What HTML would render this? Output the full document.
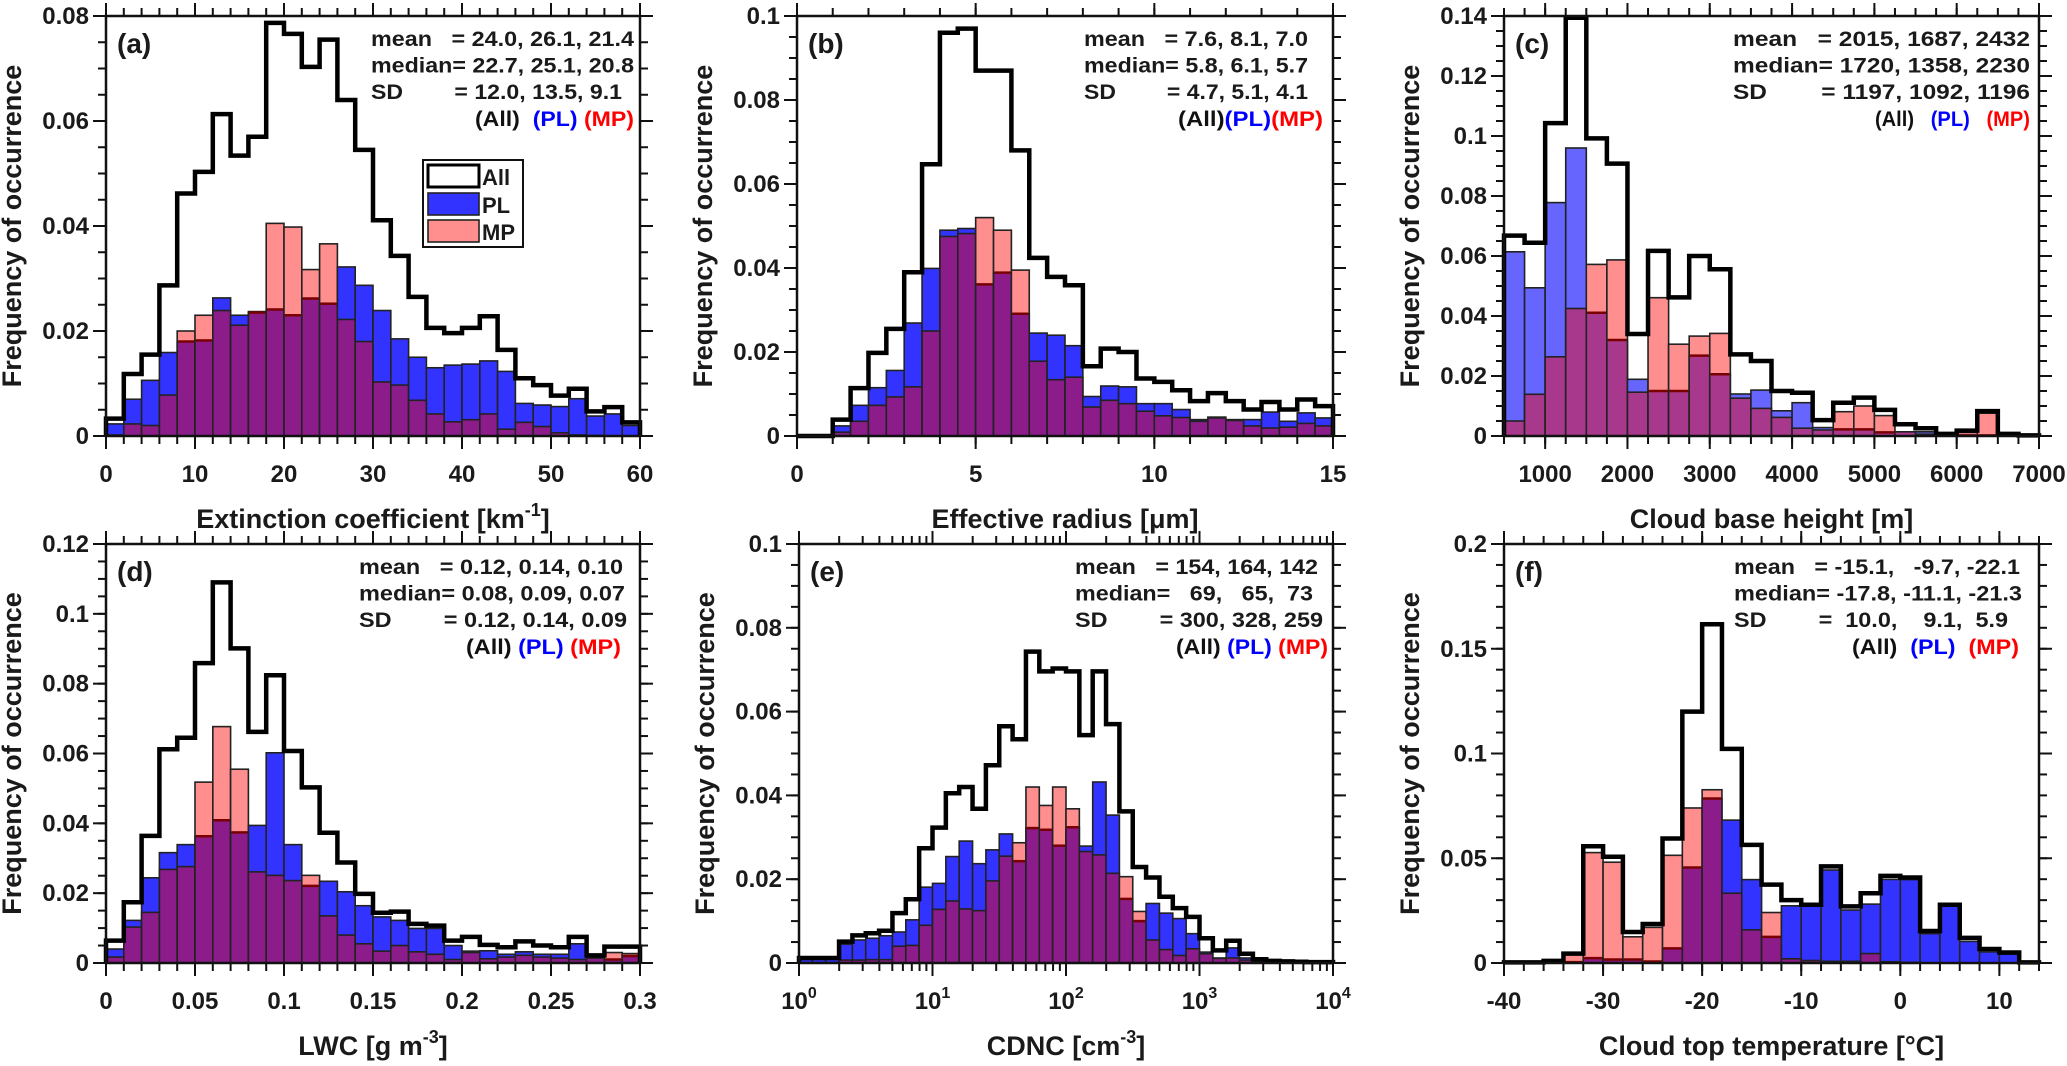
<!DOCTYPE html>
<html><head><meta charset="utf-8"><style>
html,body{margin:0;padding:0;background:#fff}
svg{display:block}
text{font-family:"Liberation Sans",Arial,sans-serif;font-weight:bold;fill:#1a1a1a}
.pre{white-space:pre}
</style></head><body>
<svg id="fig" width="2067" height="1066" viewBox="0 0 2067 1066" xmlns="http://www.w3.org/2000/svg"></svg>
<script>
// ---------- data (a) extinction coefficient ----------
const aAll=[0.0033,0.0118,0.0155,0.0287,0.0462,0.0503,0.0613,0.0534,0.057,0.0787,0.0766,0.0703,0.0755,0.064,0.0545,0.0411,0.0343,0.0265,0.0206,0.0196,0.0206,0.0228,0.0164,0.011,0.0097,0.0077,0.009,0.0047,0.0055,0.0026];
const aPL=[0.0023,0.007,0.0106,0.0159,0.018,0.0182,0.0263,0.023,0.0235,0.0241,0.023,0.0262,0.0252,0.0322,0.0287,0.0239,0.0185,0.015,0.013,0.0135,0.0137,0.0143,0.0123,0.0062,0.0059,0.0056,0.0071,0.0038,0.0042,0.002];
const aMP=[0.0002,0.0023,0.002,0.0078,0.020,0.023,0.0239,0.0211,0.0237,0.0405,0.0398,0.0317,0.0366,0.0222,0.018,0.0103,0.0097,0.0068,0.0042,0.0027,0.0031,0.0042,0.0013,0.0026,0.0018,0.0006,0.0002,0.0001,0,0];
const aXTicks=[0,10,20,30,40,50,60];
const aXLabels=["0","10","20","30","40","50","60"];
const aYTicks=[0,0.02,0.04,0.06,0.08];
const aYLabels=["0","0.02","0.04","0.06","0.08"];
// ---------- (b) effective radius ----------
const bAll=[0,0,0.0039,0.0114,0.0198,0.0255,0.039,0.0647,0.096,0.097,0.087,0.087,0.068,0.0424,0.0379,0.0359,0.0166,0.0208,0.02,0.0137,0.0129,0.0109,0.0083,0.0102,0.0083,0.0063,0.0081,0.0063,0.0087,0.0071];
const bPL=[0,0,0.0024,0.0073,0.0115,0.0156,0.0269,0.0399,0.049,0.0494,0.0361,0.0389,0.0291,0.0245,0.024,0.0215,0.0094,0.0119,0.0117,0.0077,0.0077,0.0063,0.0039,0.0045,0.0039,0.0039,0.0057,0.0035,0.0055,0.0043];
const bMP=[0,0,0.0009,0.0035,0.0073,0.0093,0.0117,0.025,0.0475,0.0482,0.052,0.049,0.0395,0.0178,0.0134,0.014,0.0069,0.0085,0.0077,0.0059,0.0048,0.0044,0.0035,0.0043,0.0037,0.0024,0.0019,0.0021,0.003,0.0024];
const bXTicks=[0,5,10,15];
const bXLabels=["0","5","10","15"];
const bYTicks=[0,0.02,0.04,0.06,0.08,0.1];
const bYLabels=["0","0.02","0.04","0.06","0.08","0.1"];
// ---------- (c) cloud base height ----------
const cAll=[0.0668,0.0644,0.1043,0.1394,0.0992,0.0908,0.034,0.0617,0.0462,0.060,0.0556,0.0272,0.025,0.015,0.0144,0.0053,0.0111,0.0128,0.0087,0.0039,0.0026,0.0007,0.0018,0.0083,0.0007,0.0002];
const cPL=[0.0614,0.0494,0.0778,0.096,0.0411,0.032,0.0189,0.015,0.015,0.0268,0.0206,0.014,0.0153,0.0084,0.0111,0.0028,0.0022,0.0022,0.0012,0.0014,0.0014,0.0003,0.0002,0.0002,0.0002,0.0001];
const cMP=[0.005,0.0139,0.0264,0.0425,0.0572,0.0587,0.0146,0.0461,0.0306,0.0333,0.0342,0.0126,0.0092,0.0062,0.0026,0.002,0.0081,0.010,0.0068,0.0014,0.0006,0.0002,0.0012,0.0076,0.0003,0.0001];
const cXTicks=[1000,2000,3000,4000,5000,6000,7000];
const cXLabels=["1000","2000","3000","4000","5000","6000","7000"];
const cYTicks=[0,0.02,0.04,0.06,0.08,0.1,0.12,0.14];
const cYLabels=["0","0.02","0.04","0.06","0.08","0.1","0.12","0.14"];
// ---------- (d) LWC ----------
const dAll=[0.0064,0.0174,0.0364,0.0612,0.0645,0.0859,0.109,0.0901,0.0662,0.0824,0.0607,0.0503,0.0373,0.0288,0.0198,0.0144,0.0147,0.0112,0.0107,0.0064,0.0075,0.0052,0.0045,0.0062,0.005,0.0045,0.0075,0.0022,0.0047,0.0047];
const dPL=[0.004,0.0122,0.0244,0.0316,0.0339,0.0363,0.0409,0.0374,0.0394,0.0602,0.0339,0.0221,0.0234,0.0204,0.0164,0.0132,0.0122,0.0099,0.0099,0.005,0.0034,0.0035,0.0025,0.0032,0.0025,0.0025,0.0055,0.0017,0.001,0.002];
const dMP=[0.0017,0.0103,0.0145,0.0268,0.0276,0.0518,0.0677,0.0555,0.0261,0.0251,0.0236,0.0251,0.0135,0.008,0.0055,0.0034,0.005,0.0032,0.0025,0.001,0.003,0.0012,0.0017,0.0022,0.0017,0.0014,0.001,0.0014,0.003,0.0027];
const dXTicks=[0,0.05,0.1,0.15,0.2,0.25,0.3];
const dXLabels=["0","0.05","0.1","0.15","0.2","0.25","0.3"];
const dYTicks=[0,0.02,0.04,0.06,0.08,0.1,0.12];
const dYLabels=["0","0.02","0.04","0.06","0.08","0.1","0.12"];
// ---------- (e) CDNC (log bins, 10 per decade) ----------
const eAll=[0.0012,0.0012,0.0012,0.0051,0.0066,0.0071,0.0077,0.0119,0.0152,0.0274,0.0323,0.0405,0.042,0.0368,0.0472,0.0565,0.0534,0.0743,0.0696,0.0703,0.0696,0.0544,0.0696,0.057,0.0362,0.0229,0.0204,0.0158,0.0131,0.011,0.0059,0.003,0.0053,0.0022,0.0009,0.0005,0.0004,0.0003,0.0002,0.0002];
const ePL=[0.0009,0.0009,0.0009,0.0045,0.0055,0.0059,0.0065,0.0074,0.0103,0.0181,0.019,0.0254,0.0291,0.0237,0.027,0.0308,0.0243,0.0322,0.0318,0.028,0.0324,0.0279,0.0432,0.0353,0.0153,0.010,0.0142,0.0119,0.0106,0.007,0.0026,0.0012,0.0036,0.0012,0.0006,0.0003,0.0002,0.0002,0.0001,0.0001];
const eMP=[0.0001,0.0001,0.0001,0.0007,0.0007,0.0008,0.0008,0.004,0.0042,0.009,0.0128,0.0148,0.0129,0.0125,0.0196,0.0255,0.0287,0.042,0.0376,0.042,0.0368,0.0266,0.0258,0.0214,0.0206,0.0123,0.0055,0.0032,0.0018,0.0034,0.0022,0.0011,0.0012,0.0007,0.0004,0.0006,0.0002,0.0001,0.0001,0];
const eXTicks=[1,10,100,1000,10000];
const eXExp=["0","1","2","3","4"];
const eYTicks=[0,0.02,0.04,0.06,0.08,0.1];
const eYLabels=["0","0.02","0.04","0.06","0.08","0.1"];
// ---------- (f) cloud top temperature ----------
const fAll=[0.0003,0.0003,0.001,0.0045,0.0557,0.0507,0.0148,0.0186,0.0594,0.12,0.1617,0.1022,0.0564,0.0374,0.03,0.0278,0.0461,0.027,0.0333,0.0416,0.0408,0.0153,0.0278,0.012,0.0067,0.005,0.0003];
const fPL=[0,0,0.0003,0.0004,0.0023,0.0017,0.0017,0.0007,0.007,0.0456,0.0785,0.0682,0.0398,0.0125,0.0273,0.0273,0.0444,0.0253,0.0281,0.0399,0.0398,0.014,0.0273,0.0103,0.0053,0.0042,0.0002];
const fMP=[0,0,0.0005,0.004,0.0527,0.0481,0.0125,0.017,0.0514,0.074,0.0827,0.0333,0.0158,0.0241,0.002,0.0012,0.0008,0.0008,0.0045,0.0006,0.0003,0,0,0,0,0,0];
const fXTicks=[-40,-30,-20,-10,0,10];
const fXLabels=["-40","-30","-20","-10","0","10"];
const fYTicks=[0,0.05,0.1,0.15,0.2];
const fYLabels=["0","0.05","0.1","0.15","0.2"];

const NS="http://www.w3.org/2000/svg";
const svg=document.getElementById('fig');
function mk(tag,attrs,parent){const e=document.createElementNS(NS,tag);for(const k in attrs)e.setAttribute(k,attrs[k]);(parent||svg).appendChild(e);return e;}

const panels=[
 {id:'a',x0:106,x1:640,y0:16,y1:436,xmin:0,xmax:60,bs:0,bw:2,ymax:0.08,all:aAll,pl:aPL,mp:aMP,xt:aXTicks,xl:aXLabels,xminor:2,yt:aYTicks,yl:aYLabels,yminor:0.005,
  xlab:['Extinction coefficient [km','-1',']'],stats:['mean   = 24.0, 26.1, 21.4','median= 22.7, 25.1, 20.8','SD        = 12.0, 13.5, 9.1'],L:371,R:[634,634,622],legL:475,legR:634,leg:['(All)','  (PL)',' (MP)'],legend:true},
 {id:'b',x0:797,x1:1333,y0:16,y1:436,xmin:0,xmax:15,bs:0,bw:0.5,ymax:0.1,all:bAll,pl:bPL,mp:bMP,xt:bXTicks,xl:bXLabels,xminor:1,yt:bYTicks,yl:bYLabels,yminor:0.005,
  xlab:['Effective radius [\u03bcm]'],stats:['mean   = 7.6, 8.1, 7.0','median= 5.8, 6.1, 5.7','SD        = 4.7, 5.1, 4.1'],L:1084,R:[1308,1308,1308],legL:1178,legR:1323,leg:['(All)','(PL)','(MP)']},
 {id:'c',x0:1504,x1:2039,y0:16,y1:436,xmin:500,xmax:7000,bs:500,bw:250,ymax:0.14,all:cAll,pl:cPL,mp:cMP,xt:cXTicks,xl:cXLabels,xminor:250,yt:cYTicks,yl:cYLabels,yminor:0.005,
  xlab:['Cloud base height [m]'],stats:['mean   = 2015, 1687, 2432','median= 1720, 1358, 2230','SD        = 1197, 1092, 1196'],L:1733,R:[2030,2030,2030],legL:1875,legR:2030,leg:['(All)','   (PL)','   (MP)'],light:true},
 {id:'d',x0:106,x1:640,y0:544,y1:963,xmin:0,xmax:0.3,bs:0,bw:0.01,ymax:0.12,all:dAll,pl:dPL,mp:dMP,xt:dXTicks,xl:dXLabels,xminor:0.01,yt:dYTicks,yl:dYLabels,yminor:0.005,
  xlab:['LWC [g m','-3',']'],stats:['mean   = 0.12, 0.14, 0.10','median= 0.08, 0.09, 0.07','SD        = 0.12, 0.14, 0.09'],L:359,R:[623,625,627],legL:466,legR:621,leg:['(All)',' (PL)',' (MP)']},
 {id:'e',x0:799,x1:1333,y0:544,y1:963,log:true,lmin:0,lmax:4,ymax:0.1,all:eAll,pl:ePL,mp:eMP,xt:eXTicks,xe:eXExp,yt:eYTicks,yl:eYLabels,yminor:0.005,
  xlab:['CDNC [cm','-3',']'],stats:['mean   = 154, 164, 142','median=   69,   65,  73','SD        = 300, 328, 259'],L:1075,R:[1318,1313,1323],legL:1176,legR:1328,leg:['(All)',' (PL)',' (MP)']},
 {id:'f',x0:1504,x1:2039,y0:544,y1:963,xmin:-40,xmax:14,bs:-40,bw:2,ymax:0.2,all:fAll,pl:fPL,mp:fMP,xt:fXTicks,xl:fXLabels,xminor:2,yt:fYTicks,yl:fYLabels,yminor:0.01,
  xlab:['Cloud top temperature [\u00b0C]'],stats:['mean   = -15.1,   -9.7, -22.1','median= -17.8, -11.1, -21.3','SD        =  10.0,    9.1,  5.9'],L:1734,R:[2020,2022,2008],legL:1852,legR:2019,leg:['(All)','  (PL)','  (MP)']}
];

function drawPanel(p){
  const g=mk('g',{});
  
  
  const xs=v=>p.log?p.x0+(Math.log10(v)-p.lmin)/(p.lmax-p.lmin)*(p.x1-p.x0):p.x0+(v-p.xmin)/(p.xmax-p.xmin)*(p.x1-p.x0);
  const ys=v=>p.y1-v/p.ymax*(p.y1-p.y0);
  const edge=i=>p.log?Math.pow(10,i*0.1):p.bs+i*p.bw;
  const blue=p.light?'#6666ff':'#3333ff', purple=p.light?'#a8388c':'#8b1c89', salmon='#ff8e8e';
  const n=p.all.length;
  const bars=mk('g',{},g);
  
  
  for(let i=0;i<n;i++){
    const xa=xs(edge(i)), xb=xs(edge(i+1));
    const pl=p.pl[i], mp=p.mp[i], hi=Math.max(pl,mp), lo=Math.min(pl,mp);
    if(hi>0){
      const r=mk('rect',{x:xa,y:ys(hi),width:xb-xa,height:ys(0)-ys(hi),fill:pl>=mp?blue:salmon,stroke:'#222','stroke-width':1.6},bars);
      
      
    }
    if(lo>0){
      const r2=mk('rect',{x:xa,y:ys(lo),width:xb-xa,height:ys(0)-ys(lo),fill:purple,stroke:'#222','stroke-width':1.6},bars);
      
      
      if(pl<mp){
        const l=mk('line',{x1:xa+1,x2:xb-1,y1:ys(pl),y2:ys(pl),stroke:'#7a0000','stroke-width':2.5},bars);
        
        
      }
    }
  }
  let d='M'+xs(edge(0))+','+ys(0);
  for(let i=0;i<n;i++){d+=' V'+ys(p.all[i])+' H'+xs(edge(i+1));}
  d+=' V'+ys(0);
  const st=mk('path',{d:d,fill:'none',stroke:'#000','stroke-width':4.5,'stroke-linejoin':'miter'},g);
  
  
  const box=mk('rect',{x:p.x0,y:p.y0,width:p.x1-p.x0,height:p.y1-p.y0,fill:'none',stroke:'#111','stroke-width':2.5},g);
  
  
  const tk=mk('g',{stroke:'#111','stroke-width':2},g);
  
  
  function xt(x,len){mk('line',{x1:x,x2:x,y1:p.y1,y2:p.y1+len},tk);mk('line',{x1:x,x2:x,y1:p.y0,y2:p.y0-len},tk);}
  function yt(y,len){mk('line',{x1:p.x0,x2:p.x0-len,y1:y,y2:y},tk);mk('line',{x1:p.x1,x2:p.x1+len,y1:y,y2:y},tk);}
  if(p.log){
    for(let dd=0;dd<4;dd++)for(let k=2;k<10;k++)xt(xs(k*Math.pow(10,dd)),8);
  } else {
    const nm=Math.round((p.xmax-p.xmin)/p.xminor);
    for(let k=0;k<=nm;k++)xt(xs(p.xmin+k*p.xminor),8);
  }
  p.xt.forEach(v=>xt(xs(v),13));
  const nym=Math.round(p.ymax/p.yminor);
  for(let k=0;k<=nym;k++)yt(ys(k*p.yminor),8);
  p.yt.forEach(v=>yt(ys(v),13));
  p.xt.forEach((v,i)=>{
    const t=mk('text',{x:xs(v),y:p.y1+46,'text-anchor':'middle','font-size':24},g);
    if(p.log){t.textContent='10';const s=mk('tspan',{dy:-11,'font-size':16},t);s.textContent=p.xe[i];}
    else t.textContent=p.xl[i];
    
    
  });
  p.yt.forEach((v,i)=>{
    const t=mk('text',{x:p.x0-17,y:ys(v)+8,'text-anchor':'end','font-size':24},g);
    t.textContent=p.yl[i];
    
    
  });
  const xlab=mk('text',{x:(p.x0+p.x1)/2,y:p.y1+92,'text-anchor':'middle','font-size':27},g);
  
  
  const t1=mk('tspan',{},xlab);t1.textContent=p.xlab[0];
  if(p.xlab.length>1){const t2=mk('tspan',{dy:-12,'font-size':18},xlab);t2.textContent=p.xlab[1];const t3=mk('tspan',{dy:12},xlab);t3.textContent=p.xlab[2];}
  const cy=(p.y0+p.y1)/2;
  const ylab=mk('text',{x:p.x0-85,y:cy,'text-anchor':'middle','font-size':27,transform:'rotate(-90 '+(p.x0-85)+' '+cy+')'},g);
  ylab.textContent='Frequency of occurrence';
  
  
  const pl=mk('text',{x:p.x0+11,y:p.y0+37,'font-size':28},g);
  pl.textContent='('+p.id+')';
  
  
  p.stats.forEach((s,i)=>{
    const t=mk('text',{x:p.L,y:p.y0+30+i*26.5,'font-size':21,textLength:p.R[i]-p.L,lengthAdjust:'spacingAndGlyphs','class':'pre'},g);
    t.textContent=s;
    
    
  });
  const lg=mk('text',{x:p.legL,y:p.y0+110,'font-size':21,textLength:p.legR-p.legL,lengthAdjust:'spacingAndGlyphs','class':'pre'},g);
  
  
  const cols=['#111','#0000ff','#ff0000'];
  p.leg.forEach((s,i)=>{const ts=mk('tspan',{style:'fill:'+cols[i]},lg);ts.textContent=s;});
  if(p.legend){
    const lgg=mk('g',{},g);
    
    
    mk('rect',{x:423,y:160,width:100,height:87,fill:'#fff',stroke:'#111','stroke-width':2},lgg);
    const items=[['All','#fff','#000',3,165],['PL','#3333ff','#222',1.6,193],['MP','#ff8e8e','#222',1.6,220]];
    items.forEach(it=>{
      const r=mk('rect',{x:428,y:it[4],width:51,height:22,fill:it[1],stroke:it[2],'stroke-width':it[3]},lgg);
      
      
      const t=mk('text',{x:482,y:it[4]+20,'font-size':22},lgg);
      t.textContent=it[0];
      
      
    });
  }
}
panels.forEach(drawPanel);
</script>
</body></html>
